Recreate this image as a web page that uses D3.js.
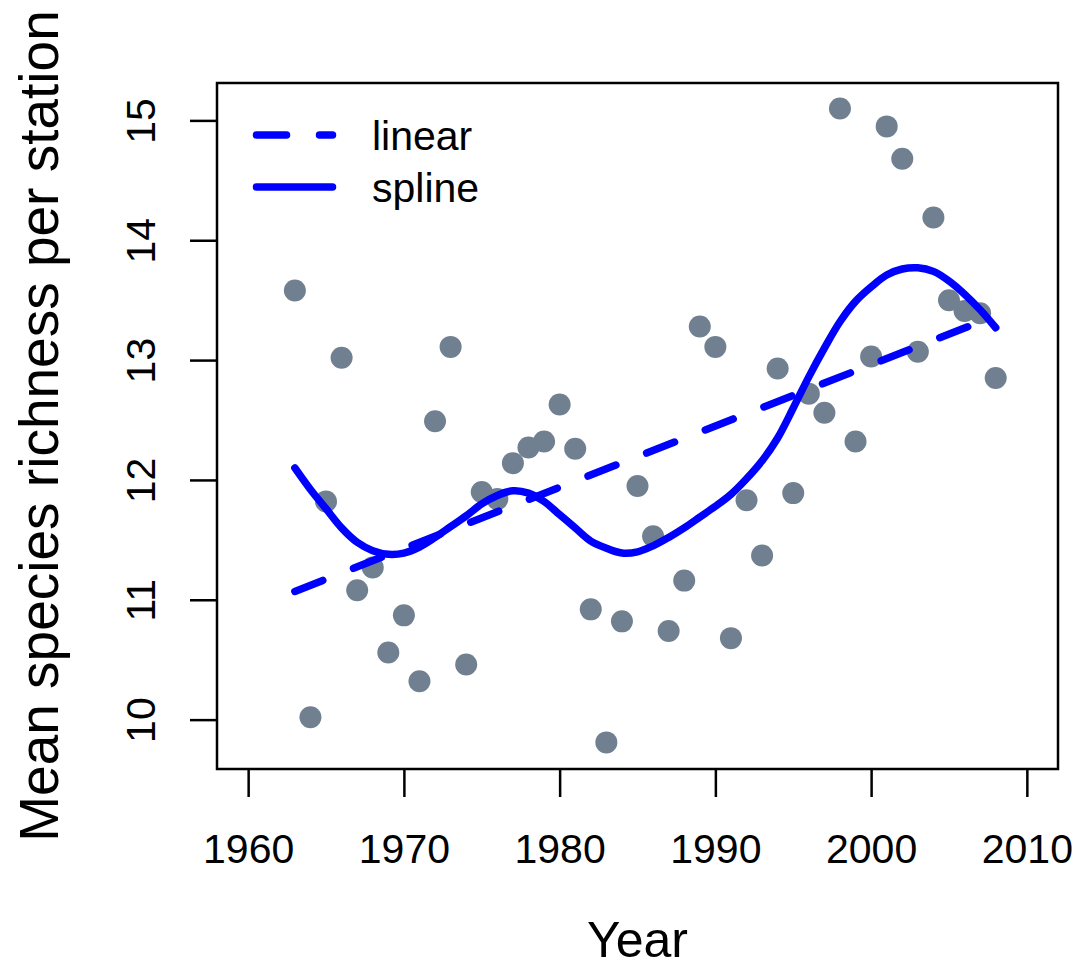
<!DOCTYPE html>
<html>
<head>
<meta charset="utf-8">
<script src="https://cdn.jsdelivr.net/npm/d3@7"></script>
<style>
  html, body { margin: 0; padding: 0; background: #fff; }
  svg { display: block; }
  text { font-family: "Liberation Sans", Arial, Helvetica, sans-serif; fill: #000; }
</style>
</head>
<body>
<svg id="chart" width="1089" height="970"></svg>
<script>
// ---- data ----
const years = [1963,1964,1965,1966,1967,1968,1969,1970,1971,1972,1973,1974,1975,1976,1977,1978,1979,1980,1981,1982,1983,1984,1985,1986,1987,1988,1989,1990,1991,1992,1993,1994,1995,1996,1997,1998,1999,2000,2001,2002,2003,2004,2005,2006,2007,2008];
const richness = [13.58,10.02,11.82,13.02,11.08,11.27,10.56,10.87,10.32,12.49,13.11,10.46,11.90,11.84,12.14,12.27,12.32,12.63,12.26,10.92,9.81,10.82,11.95,11.53,10.74,11.16,13.28,13.11,10.68,11.83,11.37,12.93,11.89,12.72,12.56,15.10,12.32,13.03,14.95,14.68,13.07,14.19,13.50,13.41,13.39,12.85];
const splineValues = [12.10,11.92,11.76,11.60,11.48,11.41,11.38,11.39,11.44,11.52,11.61,11.70,11.80,11.87,11.91,11.89,11.82,11.71,11.60,11.49,11.43,11.39,11.40,11.45,11.52,11.60,11.69,11.78,11.88,12.01,12.16,12.35,12.60,12.86,13.10,13.32,13.49,13.61,13.71,13.76,13.77,13.74,13.66,13.55,13.42,13.27];
const linearYears = [1963, 2008];
const linearValues = [11.07, 13.37];
const xTicks = [1960,1970,1980,1990,2000,2010];
const yTicks = [10,11,12,13,14,15];
const legendLabels = ["linear", "spline"];
const xTitle = "Year";
const yTitle = "Mean species richness per station";

// ---- layout ----
const svg = d3.select("#chart");
const L = 217, R = 1058, T = 83, B = 769;
const x = d3.scaleLinear().domain([1958, 2012]).range([L, R]);
const y = d3.scaleLinear().domain([9.588, 15.312]).range([B, T]);
const lineColor = "#0000ff";
const lw = 7.5;
const dash = "30,33";

// box
svg.append("rect").attr("x", L).attr("y", T).attr("width", R - L).attr("height", B - T)
  .attr("fill", "none").attr("stroke", "#000").attr("stroke-width", 2.5);

// x axis
const xAxis = d3.axisBottom(x).tickValues(xTicks).tickFormat(d3.format("d")).tickSize(28).tickPadding(0);
const gx = svg.append("g").attr("transform", `translate(0,${B})`).call(xAxis);
gx.select(".domain").remove();
gx.selectAll(".tick line").attr("stroke", "#000").attr("stroke-width", 2.5);
gx.selectAll(".tick text").attr("y", 94).attr("dy", null)
  .style("font-size", "41px").style("font-family", '"Liberation Sans", Arial, sans-serif').attr("fill", "#000");

// y axis
const yAxis = d3.axisLeft(y).tickValues(yTicks).tickFormat(d3.format("d")).tickSize(27).tickPadding(0);
const gy = svg.append("g").attr("transform", `translate(${L},0)`).call(yAxis);
gy.select(".domain").remove();
gy.selectAll(".tick line").attr("stroke", "#000").attr("stroke-width", 2.5);
gy.selectAll(".tick text")
  .attr("x", null).attr("dy", null)
  .attr("text-anchor", "middle")
  .attr("transform", `translate(${155 - L},0) rotate(-90)`)
  .style("font-size", "41px").style("font-family", '"Liberation Sans", Arial, sans-serif').attr("fill", "#000");

// titles
svg.append("text").attr("x", (L + R) / 2).attr("y", 957).attr("text-anchor", "middle")
  .style("font-size", "50px").text(xTitle);
svg.append("text").attr("transform", `translate(58,${(T + B) / 2}) rotate(-90)`).attr("text-anchor", "middle")
  .style("font-size", "55px").text(yTitle);

// clip
svg.append("clipPath").attr("id", "clip").append("rect")
  .attr("x", L).attr("y", T).attr("width", R - L).attr("height", B - T);
const plot = svg.append("g").attr("clip-path", "url(#clip)");

// points
plot.selectAll("circle.pt").data(years.map((yr, i) => [yr, richness[i]])).join("circle")
  .attr("class", "pt")
  .attr("cx", d => x(d[0])).attr("cy", d => y(d[1])).attr("r", 11)
  .attr("fill", "#708090");

// linear fit (dashed)
plot.append("path")
  .datum(linearYears.map((yr, i) => [yr, linearValues[i]]))
  .attr("d", d3.line().x(d => x(d[0])).y(d => y(d[1])))
  .attr("fill", "none").attr("stroke", lineColor).attr("stroke-width", lw)
  .attr("stroke-linecap", "round").attr("stroke-dasharray", dash);

// spline
plot.append("path")
  .datum(years.map((yr, i) => [yr, splineValues[i]]))
  .attr("d", d3.line().curve(d3.curveCatmullRom).x(d => x(d[0])).y(d => y(d[1])))
  .attr("fill", "none").attr("stroke", lineColor).attr("stroke-width", lw)
  .attr("stroke-linecap", "round").attr("stroke-linejoin", "round");

// legend
const leg = svg.append("g");
const legY = [135, 187];
legendLabels.forEach((lab, i) => {
  leg.append("line").attr("x1", 256.5).attr("x2", 332.5).attr("y1", legY[i]).attr("y2", legY[i])
    .attr("stroke", lineColor).attr("stroke-width", lw).attr("stroke-linecap", "round")
    .attr("stroke-dasharray", i === 0 ? dash : null);
  leg.append("text").attr("x", 372).attr("y", legY[i] + 15).style("font-size", "41px").text(lab);
});
</script>
</body>
</html>
